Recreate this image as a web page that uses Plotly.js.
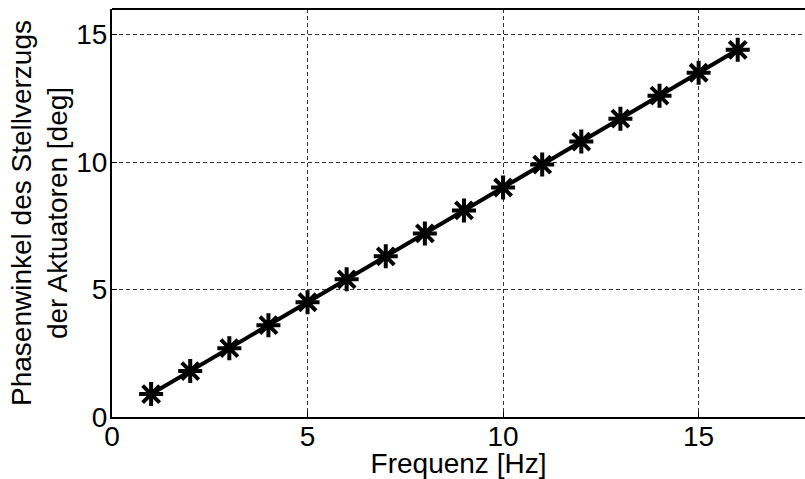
<!DOCTYPE html>
<html><head><meta charset="utf-8">
<script src="https://cdn.plot.ly/plotly-3.0.1.min.js"></script>
<style>html,body{margin:0;padding:0;background:#fff}</style>
</head><body>
<div id="chart" style="width:805px;height:479px"></div>
<script>
const freq = [1,2,3,4,5,6,7,8,9,10,11,12,13,14,15,16];
const phase = [0.9,1.8,2.7,3.6,4.5,5.4,6.3,7.2,8.1,9.0,9.9,10.8,11.7,12.6,13.5,14.4];
const xTicks = [0,5,10,15];
const yTicks = [0,5,10,15];

const trace = {
  x: freq, y: phase, type: 'scatter', mode: 'lines+markers',
  line: {color: '#000', width: 4},
  marker: {symbol: 'asterisk-open', size: 20, color: '#000', line: {color: '#000', width: 4}},
  cliponaxis: false
};
const fam = 'Liberation Sans, Arial, sans-serif';
const layout = {
  width: 805, height: 479,
  margin: {l: 112, r: 0, t: 9, b: 62},
  paper_bgcolor: '#fff', plot_bgcolor: '#fff',
  showlegend: false,
  font: {family: fam, color: '#000'},
  xaxis: {
    range: [0, 17.72], tickvals: xTicks, ticktext: xTicks.map(String),
    showgrid: true, gridcolor: '#333', griddash: '4px,3px', gridwidth: 1,
    zeroline: false, showline: true, linecolor: '#000', linewidth: 2,
    ticks: 'inside', ticklen: 5, tickcolor: '#000', ticklabelstandoff: -7,
    tickfont: {size: 28, family: fam, color: '#000'},
    title: {text: 'Frequenz [Hz]', font: {size: 28, family: fam, color: '#000'}, standoff: 6}
  },
  yaxis: {
    range: [0, 16], tickvals: yTicks, ticktext: yTicks.map(String),
    showgrid: true, gridcolor: '#333', griddash: '4px,3px', gridwidth: 1,
    zeroline: false, showline: true, linecolor: '#000', linewidth: 2,
    ticks: 'inside', ticklen: 5, tickcolor: '#000', ticklabelstandoff: -3,
    tickfont: {size: 28, family: fam, color: '#000'},
    title: {text: 'Phasenwinkel des Stellverzugs<br>der Aktuatoren [deg]', font: {size: 28, family: fam, color: '#000'}, standoff: 0}
  },
  shapes: [{type: 'line', xref: 'paper', yref: 'paper', x0: 0, x1: 1, y0: 1, y1: 1, line: {color: '#000', width: 2}}]
};
Plotly.newPlot('chart', [trace], layout, {displayModeBar: false, staticPlot: true});
</script>
</body></html>
